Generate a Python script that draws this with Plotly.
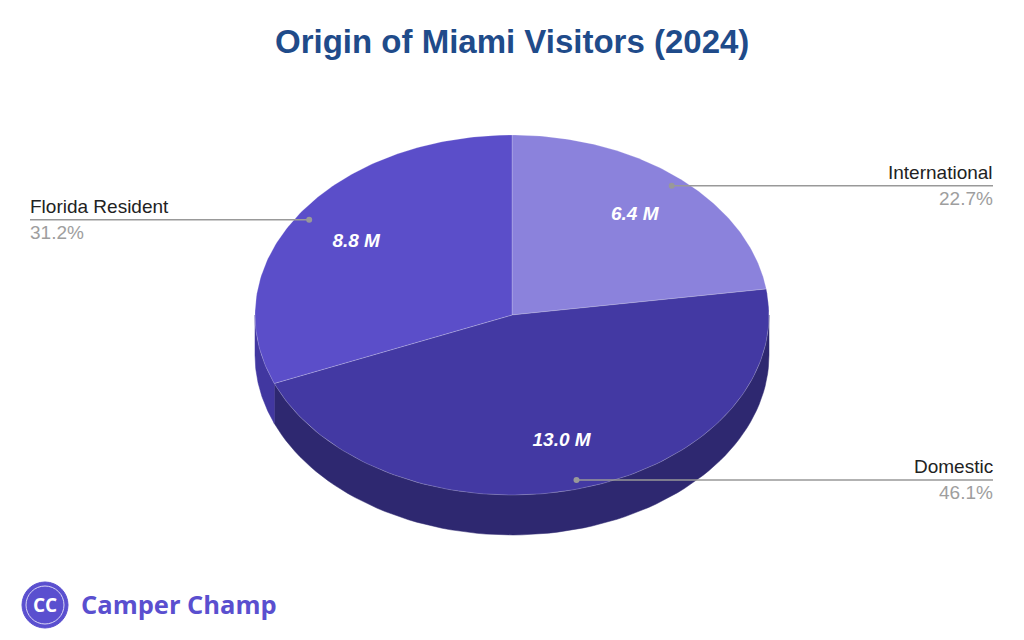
import numpy as np
import plotly.graph_objects as go

# data
labels = ["International", "Domestic", "Florida Resident"]
values = [6.4, 13.0, 8.8]  # millions of visitors
value_text = ["6.4 M", "13.0 M", "8.8 M"]

top_colors = ["#8b82dc", "#4339a3", "#5b4ec9"]
side_colors = ["#5e55b0", "#2e2870", "#4137a0"]

# fake 3d pie geometry (pixel space)
cx, cy = 512, 315
rx, ry = 257, 180
depth = 40

total = sum(values)
shares = [v / total for v in values]
starts = np.cumsum([0] + shares[:-1]) * 360
ends = np.cumsum(shares) * 360


def ell(theta, r=1.0, dy=0):
    t = np.radians(theta)
    return cx + r * rx * np.sin(t), cy - r * ry * np.cos(t) + dy


fig = go.Figure()

# side walls (only front half visible)
for a, b, col in zip(starts, ends, side_colors):
    lo, hi = max(a, 90), min(b, 270)
    if hi <= lo:
        continue
    th = np.linspace(lo, hi, 80)
    xt, yt = ell(th)
    xb, yb = ell(th[::-1], dy=depth)
    fig.add_trace(go.Scatter(
        x=np.concatenate([xt, xb, xt[:1]]), y=np.concatenate([yt, yb, yt[:1]]),
        mode="lines", fill="toself", fillcolor=col,
        line=dict(color=col, width=0.5), hoverinfo="skip", showlegend=False))

# top faces
for a, b, col, name in zip(starts, ends, top_colors, labels):
    th = np.linspace(a, b, 120)
    xs, ys = ell(th)
    fig.add_trace(go.Scatter(
        x=np.concatenate([[cx], xs, [cx]]), y=np.concatenate([[cy], ys, [cy]]),
        mode="lines", fill="toself", fillcolor=col, name=name,
        line=dict(color="rgba(255,255,255,0.35)", width=0.6),
        hoverinfo="name", showlegend=False))

# value labels inside slices
mids = (starts + ends) / 2
vx, vy = ell(mids, r=0.73)
fig.add_trace(go.Scatter(
    x=vx, y=vy, mode="text", text=["<b><i>%s</i></b>" % t for t in value_text],
    textfont=dict(family="Liberation Sans, Arial", size=19, color="white"),
    hoverinfo="skip", showlegend=False))

# leader lines + outside labels
dx, dy = ell(mids, r=0.95)
for x0, y0, name, s in zip(dx, dy, labels, shares):
    right = x0 > cx
    x1 = 993 if right else 30
    fig.add_trace(go.Scatter(
        x=[x0, x1], y=[y0, y0], mode="lines",
        line=dict(color="#999999", width=1.5), hoverinfo="skip", showlegend=False))
    fig.add_trace(go.Scatter(
        x=[x0], y=[y0], mode="markers", marker=dict(color="#999999", size=6),
        hoverinfo="skip", showlegend=False))
    anchor = "right" if right else "left"
    fig.add_annotation(x=x1, y=y0 - 1, text=name, showarrow=False,
                       xanchor=anchor, yanchor="bottom", xshift=2 if right else -2,
                       font=dict(family="Liberation Sans, Arial", size=19, color="#222222"))
    fig.add_annotation(x=x1, y=y0, text="%.1f%%" % (s * 100), showarrow=False,
                       xanchor=anchor, yanchor="top", xshift=2 if right else -2,
                       font=dict(family="Liberation Sans, Arial", size=19, color="#9e9e9e"))

# title
fig.add_annotation(x=512, y=41, text="<b>Origin of Miami Visitors (2024)</b>",
                   showarrow=False, xanchor="center", yanchor="middle",
                   font=dict(family="Liberation Sans, Arial", size=33, color="#1f4b8a"))

# logo
fig.add_shape(type="circle", x0=22, x1=68, y0=582, y1=628,
              fillcolor="#5a4fcf", line=dict(color="#5a4fcf", width=1))
fig.add_shape(type="circle", x0=26, x1=64, y0=586, y1=624,
              fillcolor="rgba(0,0,0,0)", line=dict(color="#d9d5f5", width=1))
fig.add_annotation(x=45, y=605, text="<b>CC</b>", showarrow=False,
                   font=dict(family="Open Sans, Arial", size=19, color="white"))
fig.add_annotation(x=79, y=604, text="<b>Camper Champ</b>", showarrow=False,
                   xanchor="left", yanchor="middle",
                   font=dict(family="Open Sans, Arial", size=25.5, color="#5a4fcf"))

fig.update_xaxes(range=[0, 1024], visible=False, fixedrange=True)
fig.update_yaxes(range=[640, 0], visible=False, fixedrange=True)
fig.update_layout(width=1024, height=640, margin=dict(l=0, r=0, t=0, b=0),
                  plot_bgcolor="white", paper_bgcolor="white")

fig.write_html("out.html", config={"displayModeBar": False},
               post_script="document.body.style.margin='0';")
